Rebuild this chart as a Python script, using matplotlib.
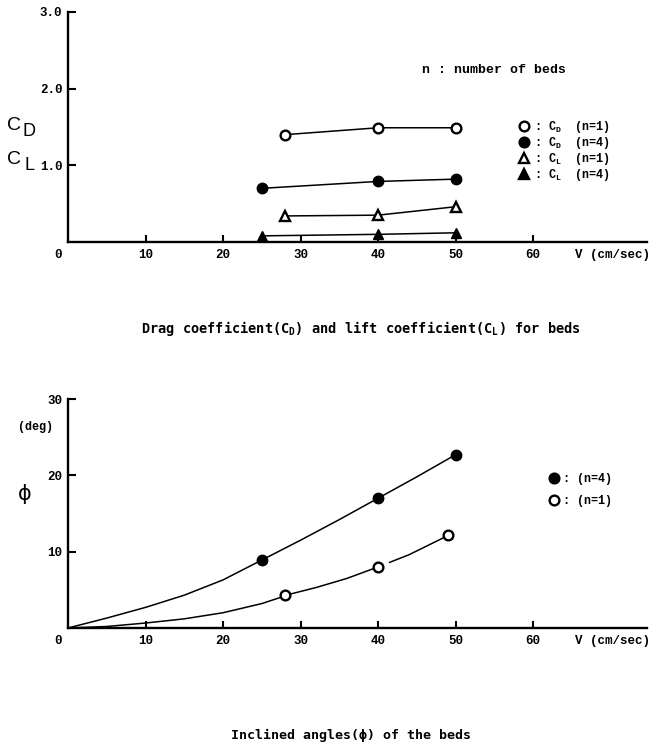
#!/usr/bin/env python3

import matplotlib
matplotlib.use("Agg")
import matplotlib.pyplot as plt
from matplotlib.lines import Line2D

# velocity V (cm/sec) at the measuring points
v_cd1 = [28, 40, 50]
cd_n1 = [1.40, 1.49, 1.49]
v_cd4 = [25, 40, 50]
cd_n4 = [0.70, 0.79, 0.82]
v_cl1 = [28, 40, 50]
cl_n1 = [0.34, 0.35, 0.46]
v_cl4 = [25, 40, 50]
cl_n4 = [0.08, 0.10, 0.12]

# inclined angles (deg), measured points
v_phi4 = [25, 40, 50]
phi_n4 = [8.9, 17.0, 22.7]
v_phi1 = [28, 40, 49]
phi_n1 = [4.3, 8.0, 12.2]

# hand-drawn fitted curves
curve_v4 = [0, 5, 10, 15, 20, 25, 30, 35, 40, 45, 50]
curve_p4 = [0, 1.3, 2.7, 4.3, 6.3, 8.9, 11.5, 14.2, 17.0, 19.8, 22.7]
curve_v1 = [0, 5, 10, 15, 20, 25, 28]
curve_p1 = [0, 0.2, 0.65, 1.2, 2.0, 3.2, 4.2]
curve_v1b = [28.5, 32, 36, 40]
curve_p1b = [4.4, 5.3, 6.5, 8.0]
curve_v1c = [41.5, 44, 49]
curve_p1c = [8.6, 9.6, 12.1]

xticks = [10, 20, 30, 40, 50, 60]
top_yticks = [1.0, 2.0, 3.0]
bot_yticks = [10, 20, 30]

W, H = 651, 747
mono = "Liberation Mono"
capfont = "DejaVu Sans Mono"
lw = 1.1
ms = 7

fig = plt.figure(figsize=(W / 100, H / 100), dpi=100)


def px(x, y):
    return x / W, 1 - y / H


def setup(ax, ymax, yticks, ylabels):
    ax.set_xlim(0, 74.7)
    ax.set_ylim(0, ymax)
    for s in ["top", "right"]:
        ax.spines[s].set_visible(False)
    for s in ["left", "bottom"]:
        ax.spines[s].set_linewidth(1.7)
    ax.set_xticks(xticks)
    ax.set_xticklabels([str(t) for t in xticks], fontfamily=mono,
                       fontweight="bold", fontsize=9)
    ax.set_yticks(yticks)
    ax.set_yticklabels(ylabels, fontfamily=mono, fontweight="bold", fontsize=9)
    ax.tick_params(axis="x", direction="in", length=5, width=1.5, pad=5)
    ax.tick_params(axis="y", direction="in", length=6, width=1.5, pad=4)
    ax.text(-10 / 7.75, -0.055, "0", transform=ax.get_xaxis_transform(),
            ha="center", va="center", fontfamily=mono, fontweight="bold", fontsize=9)
    ax.text(70.2, -0.055, "V (cm/sec)", transform=ax.get_xaxis_transform(),
            ha="center", va="center", fontfamily=mono, fontweight="bold", fontsize=9)


# ---- drag / lift coefficients
ax1 = fig.add_axes([68 / W, 1 - 242 / H, 579 / W, 230 / H])
setup(ax1, 3.0, top_yticks, ["1.0", "2.0", "3.0"])
l1, = ax1.plot(v_cd1, cd_n1, color="black", lw=lw, marker="o", ms=ms,
               mfc="white", mec="black", mew=1.7, clip_on=False)
l2, = ax1.plot(v_cd4, cd_n4, color="black", lw=lw, marker="o", ms=ms + 0.5,
               mfc="black", mec="black", clip_on=False)
l3, = ax1.plot(v_cl1, cl_n1, color="black", lw=lw, marker="^", ms=ms,
               mfc="white", mec="black", mew=1.7, clip_on=False)
l4, = ax1.plot(v_cl4, cl_n4, color="black", lw=lw, marker="^", ms=ms + 0.5,
               mfc="black", mec="black", clip_on=False)

h1 = [Line2D([], [], ls="none", marker=l.get_marker(), ms=ms,
             mfc=l.get_mfc(), mec="black", mew=1.7) for l in (l1, l2, l3, l4)]
ax1.legend(h1, [r": C$_\mathregular{D}$  (n=1)", r": C$_\mathregular{D}$  (n=4)",
                r": C$_\mathregular{L}$  (n=1)", r": C$_\mathregular{L}$  (n=4)"],
           loc="upper left", bbox_to_anchor=(513 / W, 1 - 113 / H),
           bbox_transform=fig.transFigure, frameon=False,
           prop={"family": mono, "weight": "bold", "size": 8.5},
           handlelength=0.9, handletextpad=0.4, labelspacing=0.0, borderpad=0)

fig.text(*px(422, 70), "n : number of beds", fontfamily=mono, fontweight="bold",
         fontsize=9.5, va="center")
fig.text(*px(7, 125), "C", fontsize=14, va="center", fontfamily="Liberation Sans")
fig.text(*px(22, 132), "D", fontsize=13, va="center", fontfamily="Liberation Sans")
fig.text(*px(7, 160), "C", fontsize=14, va="center", fontfamily="Liberation Sans")
fig.text(*px(24, 166), "L", fontsize=13, va="center", fontfamily="Liberation Sans")
fig.text(*px(361, 328),
         "Drag coefficient(C$_\\mathregular{D}$) and lift coefficient(C$_\\mathregular{L}$) for beds",
         ha="center", va="center", fontfamily=capfont, fontweight="bold",
         fontsize=9.8)

# ---- inclined angles
ax2 = fig.add_axes([68 / W, 1 - 628 / H, 579 / W, 229 / H])
setup(ax2, 30, bot_yticks, ["10", "20", "30"])
for cv, cp in [(curve_v4, curve_p4), (curve_v1, curve_p1),
               (curve_v1b, curve_p1b), (curve_v1c, curve_p1c)]:
    ax2.plot(cv, cp, color="black", lw=lw)
ax2.plot(v_phi4, phi_n4, ls="none", marker="o", ms=ms + 0.5, mfc="black",
         mec="black", clip_on=False)
ax2.plot(v_phi1, phi_n1, ls="none", marker="o", ms=ms, mfc="white",
         mec="black", mew=1.7, clip_on=False)
h2 = [Line2D([], [], ls="none", marker="o", ms=ms, mfc=c, mec="black", mew=1.7)
      for c in ("black", "white")]
ax2.legend(h2, [": (n=4)", ": (n=1)"], loc="upper left",
           bbox_to_anchor=(543 / W, 1 - 467 / H), bbox_transform=fig.transFigure,
           frameon=False, prop={"family": mono, "weight": "bold", "size": 8.5},
           handlelength=0.9, handletextpad=0.3, labelspacing=0.85, borderpad=0)

fig.text(*px(35, 427), "(deg)", ha="center", va="center", fontfamily=mono,
         fontweight="bold", fontsize=8.5)
fig.text(*px(25, 494), "\u03d5", ha="center", va="center", fontsize=15,
         fontfamily="DejaVu Sans")
fig.text(*px(351, 735), "Inclined angles(\u03d5) of the beds", ha="center",
         va="center", fontfamily=capfont, fontweight="bold", fontsize=9.5)

fig.savefig("out.png", dpi=100)
